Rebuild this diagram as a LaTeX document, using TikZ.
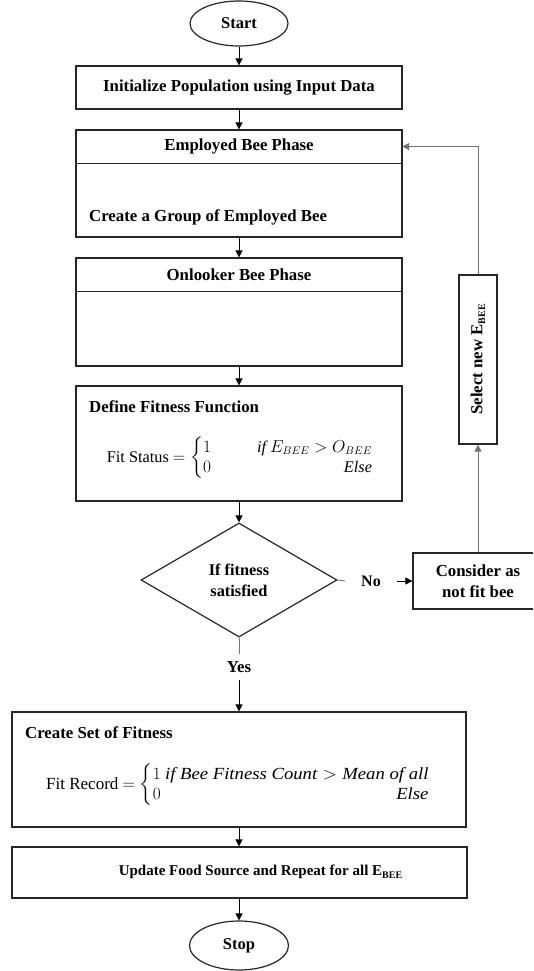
\documentclass[tikz,border=0pt]{standalone}
\usepackage{amsmath}
\usepackage{fontspec}
\setmainfont{Liberation Serif}
\usetikzlibrary{shapes.geometric,arrows.meta}
\newcommand\bsub[1]{\raisebox{-0.35ex}{\fontsize{10}{10}\selectfont #1}}
\begin{document}
\begin{tikzpicture}[x=1pt,y=-1pt,
  box/.style={draw=black!85,line width=1.2pt,rectangle,inner sep=0pt},
  lbl/.style={font=\bfseries\fontsize{16.8}{20}\selectfont,inner sep=0pt},
  boxlbl/.style={box,font=\bfseries\fontsize{16.8}{20}\selectfont},
  term/.style={draw=black!85,line width=1.2pt,ellipse,inner sep=0pt,minimum width=98pt,minimum height=45pt,font=\bfseries\fontsize{16.5}{20}\selectfont},
  decision/.style={draw=black!85,line width=1.2pt,diamond,inner sep=0pt,minimum width=196pt,minimum height=114pt,align=center,font=\bfseries\fontsize{16.3}{21}\selectfont},
  eq/.style={inner sep=0pt},
  flow/.style={draw=black,line width=0.8pt,-{Triangle[length=7pt,width=7pt]}},
  fbflow/.style={draw=black!55,line width=0.9pt,-{Triangle[length=7pt,width=7pt]}},
  plain/.style={draw=black!55,line width=0.9pt},
  divider/.style={draw=black!85,line width=1.2pt}
]
\useasboundingbox (0,0) rectangle (533,971);
\clip (0,0) rectangle (533,971);

% terminals
\node[term] (start) at (239,23.5) {Start};
\node[term,minimum width=99pt,minimum height=49pt] (stop) at (239,945.5) {Stop};

% initialize
\node[boxlbl,minimum width=326pt,minimum height=43pt] (init) at (239,87.5) {Initialize Population using Input Data};

% employed bee phase
\node[box,minimum width=326pt,minimum height=107pt] (emp) at (239,183.5) {};
\node[lbl,minimum width=326pt,minimum height=33pt] (emptitle) at (239,146.5) {Employed Bee Phase};
\draw[divider] (emptitle.south west) -- (emptitle.south east);
\node[lbl,anchor=west] (empbody) at (89,217) {Create a Group of Employed Bee};

% onlooker bee phase
\node[box,minimum width=326pt,minimum height=108pt] (onl) at (239,312) {};
\node[lbl,minimum width=326pt,minimum height=33pt] (onltitle) at (239,274.5) {Onlooker Bee Phase};
\draw[divider] (onltitle.south west) -- (onltitle.south east);

% define fitness
\node[box,minimum width=326pt,minimum height=115pt] (def) at (239,443.5) {};
\node[lbl,anchor=west] (deftitle) at (89,407) {Define Fitness Function};
\node[eq,font=\fontsize{16.3}{20}\selectfont] (defeq) at (240,458) {Fit Status $= \left\{\begin{array}{@{}l@{\hspace{46pt}}r@{}} 1 & \mathit{if}\ E_{BEE} > O_{BEE}\\ 0 & \mathit{Else}\end{array}\right.$};

% decision
\node[decision] (dia) at (239,580) {If fitness\\satisfied};
\node[lbl,font=\bfseries\fontsize{16}{20}\selectfont,inner xsep=16pt] (no) at (371,581) {No};
\node[box,minimum width=130pt,minimum height=56pt,align=center,font=\bfseries\fontsize{16.8}{21}\selectfont] (con) at (478,581) {Consider as\\not fit bee};
\node[box,minimum width=38pt,minimum height=169pt,font=\bfseries\fontsize{16.8}{20}\selectfont] (sel) at (478,359.5) {\rotatebox{90}{Select new E\bsub{BEE}}};
\node[lbl,inner ysep=7.5pt] (yes) at (239,667) {Yes};

% set of fitness
\node[box,minimum width=454pt,minimum height=115pt] (set) at (239,769.5) {};
\node[lbl,anchor=west] (settitle) at (25,733) {Create Set of Fitness};
\node[eq,anchor=west,font=\fontsize{17}{20}\selectfont] (seteq) at (46,785) {Fit Record $= \left\{\begin{array}{@{}l@{\ }r@{}} 1 & \scalebox{1.1}[1]{$\mathit{if\ Bee\ Fitness\ Count} > \mathit{Mean\ of\ all}$}\\ 0 & \scalebox{1.1}[1]{$\mathit{Else}$}\end{array}\right.$};

% update
\node[box,minimum width=455pt,minimum height=51pt] (upd) at (239.5,872.5) {};
\node[lbl,font=\bfseries\fontsize{15}{18}\selectfont] (updtext) at (260.5,872) {Update Food Source and Repeat for all E\bsub{BEE}};

% connectors
\draw[flow] (start.south) -- (init.north -| start.south);
\draw[flow] (init.south) -- (emp.north);
\draw[flow] (emp.south) -- (onl.north);
\draw[flow] (onl.south) -- (def.north);
\draw[flow] (def.south) -- (dia.north);
\draw[plain] (dia.east) -- (no.west);
\draw[flow] (no.east) -- (con.west);
\draw[plain] (dia.south) -- (yes.north);
\draw[flow] (yes.south) -- (yes.south |- set.north);
\draw[flow] (set.south -| yes.south) -- (upd.north -| yes.south);
\draw[flow] (upd.south -| stop.north) -- (stop.north);
\draw[fbflow] (con.north -| sel.south) -- (sel.south);
\draw[fbflow] (sel.north) |- (emptitle.east);
\end{tikzpicture}
\end{document}
